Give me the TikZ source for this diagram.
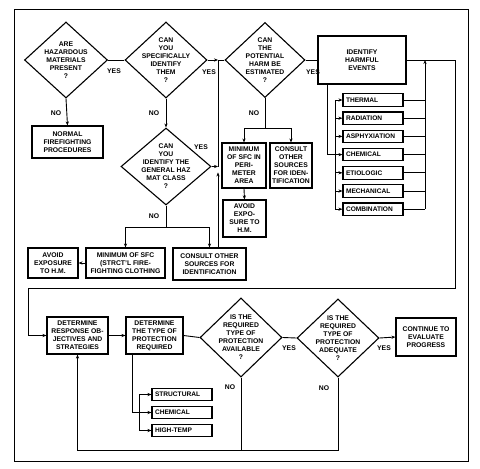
\documentclass[tikz,border=0pt]{standalone}
\usepackage{fontspec}
\setmainfont{Liberation Sans}
\usetikzlibrary{shapes.geometric, arrows.meta}

\begin{document}
\begin{tikzpicture}[x=1pt, y=-1pt,
    >={Stealth[length=4pt, width=3.2pt]},
    box/.style={rectangle, draw, line width=1.1pt, align=center, inner sep=1pt,
      font=\fontsize{6.8}{8}\selectfont\bfseries},
    quest/.style={diamond, draw, line width=1.1pt, inner sep=0pt},
    qtxt/.style={align=center, font=\fontsize{6.8}{8}\selectfont\bfseries},
    item/.style={rectangle, draw, line width=1.1pt, minimum width=60pt, minimum height=12.5pt,
      inner sep=2pt, text width=54pt, align=left, font=\fontsize{6.6}{8}\selectfont\bfseries},
    line/.style={line width=0.9pt},
    flow/.style={->, line width=0.9pt},
    lab/.style={font=\fontsize{6.8}{8}\selectfont\bfseries, inner sep=0pt}
  ]
  \useasboundingbox (0,0) rectangle (480,469);
  \draw[line width=0.9pt] (14,9) rectangle (468,461);

  % identification part
  \node[quest, minimum width=83pt, minimum height=76pt,
    label={[qtxt]center:{ARE\\HAZARDOUS\\MATERIALS\\PRESENT\\?}}] (hazq) at (66,60) {};
  \node[quest, minimum width=82pt, minimum height=76pt,
    label={[qtxt]center:{CAN\\YOU\\SPECIFICALLY\\IDENTIFY\\THEM\\?}}] (idq) at (166,60) {};
  \node[quest, minimum width=80pt, minimum height=75pt,
    label={[qtxt]center:{CAN\\THE\\POTENTIAL\\HARM BE\\ESTIMATED\\?}}] (harmq) at (265,60) {};
  \node[quest, minimum width=90pt, minimum height=77pt,
    label={[qtxt]center:{CAN\\YOU\\IDENTIFY THE\\GENERAL HAZ\\MAT CLASS\\?}}] (classq) at (166,166.5) {};

  \node[box, minimum width=88pt, minimum height=48pt] (events) at (362,60) {IDENTIFY\\HARMFUL\\EVENTS};
  \node[box, minimum width=71pt, minimum height=32pt] (normal) at (67.5,142) {NORMAL\\FIREFIGHTING\\PROCEDURES};
  \node[box, minimum width=44pt, minimum height=45pt] (perim) at (244,165.5) {MINIMUM\\OF SFC IN\\PERI-\\METER\\AREA};
  \node[box, minimum width=42pt, minimum height=45pt, inner sep=0.5pt] (consult1) at (291,165.5) {CONSULT\\OTHER\\SOURCES\\FOR IDEN-\\TIFICATION};
  \node[box, minimum width=43pt, minimum height=37pt] (avoid1) at (244.5,218.5) {AVOID\\EXPO-\\SURE TO\\H.M.};
  \node[box, minimum width=50pt, minimum height=30pt] (avoid2) at (53,263) {AVOID\\EXPOSURE\\TO H.M.};
  \node[box, minimum width=79pt, minimum height=30pt] (sfc) at (125.5,263) {MINIMUM OF SFC\\(STRCT'L FIRE-\\FIGHTING CLOTHING};
  \node[box, minimum width=73pt, minimum height=32pt] (consult2) at (209.5,264) {CONSULT OTHER\\SOURCES FOR\\IDENTIFICATION};

  \foreach \name/\txt [count=\i from 0] in {thermal/THERMAL, radiation/RADIATION,
      asphyx/ASPHYXIATION, chemical/CHEMICAL, etiologic/ETIOLOGIC,
      mechanical/MECHANICAL, combination/COMBINATION}
    \node[item] (\name) at (373,100+18.2*\i) {\txt};

  \coordinate (jn) at (218,60);
  \coordinate (jc) at (218,166.5);

  \draw[line] (hazq.east) -- (idq.west);
  \draw[flow] (idq.east) -- (jn);
  \draw[line] (jn) -- (harmq.west);
  \draw[line] (harmq.east) -- (events.west);
  \draw[flow] (hazq.south) -- (normal.north);
  \draw[flow] (idq.south) -- (classq.north);
  \draw[flow] (classq.east) -- (jc);
  \draw[flow] (consult2.north -| jc) -- ++(0,-75);
  \draw[line] (jc) -- (jn);
  \draw[line] (classq.south) -- (166,227);
  \draw[flow] (166,227) -| (sfc.north);
  \draw[flow] (166,227) -| (consult2.north);
  \draw[flow] (sfc.west) -- (avoid2.east);
  \draw[line] (harmq.south) -- (265,128);
  \draw[flow] (265,128) -| (perim.north);
  \draw[flow] (265,128) -| (consult1.north);
  \draw[flow] (perim.south) -- (avoid1.north);

  % harmful events
  \draw[line] (events.south -| 327,0) |- (chemical.west -| 335,0);
  \draw[line] (thermal.west -| 335,0) -- (combination.west -| 335,0);
  \foreach \name in {thermal, radiation, asphyx, chemical, etiologic, mechanical, combination} {
    \draw[flow] (\name.west -| 335,0) -- (\name.west);
    \draw[line] (\name.east) -- (\name.east -| 425,0);
  }
  \draw[flow] (combination.east -| 425,0) -- (425,60);

  % response part
  \node[box, minimum width=61pt, minimum height=37pt] (respond) at (77.5,335.5) {DETERMINE\\RESPONSE OB-\\JECTIVES AND\\STRATEGIES};
  \node[box, minimum width=57pt, minimum height=37pt] (ptype) at (154.5,335.5) {DETERMINE\\THE TYPE OF\\PROTECTION\\REQUIRED};
  \node[quest, minimum width=82pt, minimum height=79pt,
    label={[qtxt]center:{IS THE\\REQUIRED\\TYPE OF\\PROTECTION\\AVAILABLE\\?}}] (availq) at (241,337.5) {};
  \node[quest, minimum width=82pt, minimum height=78pt,
    label={[qtxt]center:{IS THE\\REQUIRED\\TYPE OF\\PROTECTION\\ADEQUATE\\?}}] (adeqq) at (338,338) {};
  \node[box, minimum width=60pt, minimum height=38pt] (cont) at (426,337) {CONTINUE TO\\EVALUATE\\PROGRESS};

  \foreach \name/\txt [count=\i from 0] in {structural/STRUCTURAL, chemprot/CHEMICAL, hightemp/HIGH-TEMP}
    \node[item] (\name) at (182,394.5+18*\i) {\txt};

  \draw[flow] (events.east) -- (455,60) -- (455,288) -- (28,288) |- (respond.west);
  \draw[flow] (respond.east) -- (ptype.west);
  \draw[line] (ptype.east) -- (availq.west);
  \draw[line] (availq.east) -- (adeqq.west);
  \draw[flow] (adeqq.east) -- (cont.west);
  \draw[line] (ptype.south -| 132,0) |- (chemprot.west -| 139,0);
  \draw[line] (structural.west -| 139,0) -- (hightemp.west -| 139,0);
  \foreach \name in {structural, chemprot, hightemp}
    \draw[flow] (\name.west -| 139,0) -- (\name.west);
  \draw[line] (adeqq.south) |- (availq.south |- 0,450);
  \draw[flow] (availq.south) -- (availq.south |- 0,450) -| (respond.south);

  \node[lab] (yes1) at (114,71) {YES};
  \node[lab] (yes2) at (209,72) {YES};
  \node[lab] (yes3) at (313,72) {YES};
  \node[lab] (yes4) at (201,147) {YES};
  \node[lab] (no1) at (56,113) {NO};
  \node[lab] (no2) at (154,113) {NO};
  \node[lab] (no3) at (254,113) {NO};
  \node[lab] (no4) at (154,216) {NO};
  \node[lab] (yes5) at (289,348) {YES};
  \node[lab] (yes6) at (384,348) {YES};
  \node[lab] (no5) at (230,387) {NO};
  \node[lab] (no6) at (324,388) {NO};
\end{tikzpicture}
\end{document}
